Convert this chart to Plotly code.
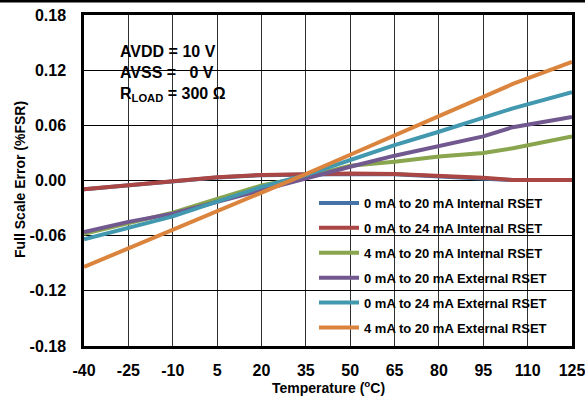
import plotly.graph_objects as go

temps = [-40, -25, -10, 5, 20, 35, 50, 65, 80, 95, 105, 125]
int_0_20 = [-0.0095, -0.005, -0.001, 0.0032, 0.0058, 0.0068, 0.0072, 0.0068, 0.0048, 0.0028, 0.0005, 0.0005]
int_0_24 = [-0.0095, -0.005, -0.001, 0.0035, 0.006, 0.007, 0.0075, 0.007, 0.005, 0.003, 0.0005, 0.0005]
int_4_20 = [-0.058, -0.0465, -0.035, -0.020, -0.0055, 0.004, 0.016, 0.0205, 0.026, 0.030, 0.035, 0.048]
ext_0_20 = [-0.056, -0.045, -0.036, -0.023, -0.010, 0.002, 0.015, 0.027, 0.0375, 0.048, 0.058, 0.069]
ext_0_24 = [-0.064, -0.051, -0.039, -0.023, -0.007, 0.006, 0.022, 0.0385, 0.053, 0.068, 0.0785, 0.096]
ext_4_20 = [-0.094, -0.074, -0.054, -0.034, -0.013, 0.007, 0.028, 0.0495, 0.070, 0.091, 0.105, 0.129]

names = ["0 mA to 20 mA Internal RSET", "0 mA to 24 mA Internal RSET", "4 mA to 20 mA Internal RSET",
         "0 mA to 20 mA External RSET", "0 mA to 24 mA External RSET", "4 mA to 20 mA External RSET"]
series = [int_0_20, int_0_24, int_4_20, ext_0_20, ext_0_24, ext_4_20]
colors = ["#4572A7", "#AA4643", "#89A54E", "#71588F", "#4198AF", "#DB843D"]

x_ticks = [-40, -25, -10, 5, 20, 35, 50, 65, 80, 95, 110, 125]
y_ticks = [-0.18, -0.12, -0.06, 0.0, 0.06, 0.12, 0.18]

fig = go.Figure()
for i, (n, s, c) in enumerate(zip(names, series, colors)):
    fig.add_trace(go.Scatter(x=temps, y=s, name=n, mode="lines",
                             line=dict(color=c, width=4), legendgroup=str(i)))

font = "Liberation Sans, Arial, sans-serif"
W, H = 585, 402
ml, mr, mt, mb = 84, 13, 15, 56
pw, ph = W - ml - mr, H - mt - mb


def px(xp):
    return (xp - ml) / pw


def py(yp):
    return 1 - (yp - mt) / ph


fig.update_layout(
    width=W, height=H, margin=dict(l=ml, r=mr, t=mt, b=mb, autoexpand=False),
    paper_bgcolor="white", plot_bgcolor="white",
    font=dict(family=font, color="black"),
    showlegend=True,
    legend=dict(x=px(314), y=py(188), xanchor="left", yanchor="top",
                bgcolor="rgba(0,0,0,0)", borderwidth=0,
                font=dict(family=font, size=13, color="black", weight="bold"),
                tracegroupgap=5, itemwidth=40),
    xaxis=dict(range=[-40, 125], tickvals=x_ticks, ticktext=[str(v) for v in x_ticks],
               showgrid=True, gridcolor="#303030", gridwidth=1,
               showline=True, linecolor="black", linewidth=2.5, mirror=True,
               ticks="outside", ticklen=8, tickcolor="white", automargin=False,
               ticklabeloverflow="allow",
               tickfont=dict(family=font, size=16, weight="bold"),
               zeroline=False),
    yaxis=dict(range=[-0.18, 0.18], tickvals=y_ticks, ticktext=["%.2f" % v for v in y_ticks],
               showgrid=True, gridcolor="black", gridwidth=1,
               showline=True, linecolor="black", linewidth=2.5, mirror=True,
               ticks="outside", ticklen=12, tickcolor="white", automargin=False,
               ticklabeloverflow="allow",
               tickfont=dict(family=font, size=16, weight="bold"),
               zeroline=False),
)

# axis titles
fig.add_annotation(xref="paper", yref="paper", x=px(328), y=py(387), showarrow=False,
                   xanchor="center", yanchor="middle",
                   text="Temperature (<sup>o</sup>C)",
                   font=dict(family=font, size=14, weight="bold", color="black"))
fig.add_annotation(xref="paper", yref="paper", x=px(20), y=py(180), showarrow=False,
                   xanchor="center", yanchor="middle", textangle=-90,
                   text="Full Scale Error (%FSR)",
                   font=dict(family=font, size=14, weight="bold", color="black"))

# white box behind condition text (covers grid)
fig.add_shape(type="rect", xref="paper", yref="paper",
              x0=px(100), x1=px(265), y0=py(98), y1=py(33),
              fillcolor="white", line=dict(width=0), layer="below")
# white box behind legend (covers grid)
fig.add_shape(type="rect", xref="paper", yref="paper",
              x0=px(293), x1=px(562), y0=py(341), y1=py(190),
              fillcolor="white", line=dict(width=0), layer="below")
fig.add_annotation(xref="paper", yref="paper", x=px(118), y=py(41),
                   xanchor="left", yanchor="top", align="left", showarrow=False,
                   text="AVDD = 10 V<br>AVSS =   0 V<br>R<sub>LOAD</sub> = 300 Ω",
                   font=dict(family=font, size=16, color="black", weight="bold"))
# top frame line of the image (thin black bar)
fig.add_shape(type="rect", xref="paper", yref="paper",
              x0=px(0), x1=px(W), y0=py(2.5), y1=py(0),
              fillcolor="black", line=dict(width=0), layer="above")

fig.write_html("out.html", config={"displayModeBar": False},
               post_script="document.body.style.margin='0px';document.body.style.overflow='hidden';")
